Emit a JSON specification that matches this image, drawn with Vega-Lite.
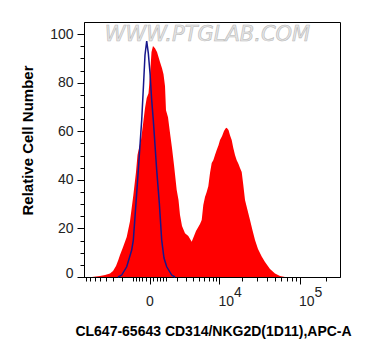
{
  "$schema": "https://vega.github.io/schema/vega-lite/v6.json",
  "width": 256,
  "height": 255,
  "autosize": {"type": "none"},
  "padding": {"left": 84, "top": 22, "right": 32, "bottom": 81},
  "background": "white",
  "config": {
    "view": {"stroke": "black", "strokeWidth": 1},
    "axis": {"labelFont": "Liberation Sans", "titleFont": "Liberation Sans", "domainColor": "black", "tickColor": "black", "labelColor": "#222222", "grid": false, "labelFontSize": 14}
  },
  "datasets": {
    "sample": [
      {"fl": -6645, "count": 0}, {"fl": -5014, "count": 0.41}, {"fl": -4158, "count": 0.82}, {"fl": -3409, "count": 1.44},
      {"fl": -3007, "count": 2.47}, {"fl": -2636, "count": 4.53}, {"fl": -2369, "count": 7.0}, {"fl": -2184, "count": 9.05},
      {"fl": -1876, "count": 12.3}, {"fl": -1527, "count": 16.5}, {"fl": -1245, "count": 23.0}, {"fl": -985, "count": 33.7},
      {"fl": -791, "count": 43.2}, {"fl": -688, "count": 50.2}, {"fl": -589, "count": 53.1}, {"fl": -464, "count": 56.4},
      {"fl": -328, "count": 63.8}, {"fl": -233, "count": 69.5}, {"fl": -141, "count": 73.7}, {"fl": -49, "count": 75.7},
      {"fl": 24, "count": 83.1}, {"fl": 100, "count": 92.6}, {"fl": 178, "count": 95.1}, {"fl": 288, "count": 94.2},
      {"fl": 404, "count": 92.6}, {"fl": 589, "count": 88.5}, {"fl": 722, "count": 86.0}, {"fl": 826, "count": 83.5},
      {"fl": 934, "count": 78.6}, {"fl": 1008, "count": 68.7}, {"fl": 1164, "count": 65.8}, {"fl": 1328, "count": 59.3},
      {"fl": 1500, "count": 53.1}, {"fl": 1683, "count": 46.1}, {"fl": 1945, "count": 35.8}, {"fl": 2131, "count": 31.7},
      {"fl": 2292, "count": 25.5}, {"fl": 2518, "count": 21.0}, {"fl": 2880, "count": 18.0}, {"fl": 3314, "count": 16.9},
      {"fl": 3802, "count": 14.5}, {"fl": 4159, "count": 16.9}, {"fl": 4487, "count": 18.9}, {"fl": 4887, "count": 20.6},
      {"fl": 5200, "count": 21.8}, {"fl": 5527, "count": 23.5}, {"fl": 5847, "count": 29.6}, {"fl": 6203, "count": 32.9},
      {"fl": 6576, "count": 35.0}, {"fl": 6943, "count": 37.4}, {"fl": 7352, "count": 42.8}, {"fl": 7778, "count": 46.9},
      {"fl": 8197, "count": 48.1}, {"fl": 8663, "count": 50.2}, {"fl": 9150, "count": 52.3}, {"fl": 9692, "count": 54.3},
      {"fl": 10163, "count": 56.4}, {"fl": 10821, "count": 58.0}, {"fl": 11515, "count": 60.1}, {"fl": 12061, "count": 61.1},
      {"fl": 12513, "count": 61.5}, {"fl": 13219, "count": 60.5}, {"fl": 13835, "count": 58.4}, {"fl": 14562, "count": 56.4},
      {"fl": 15279, "count": 53.1}, {"fl": 16075, "count": 50.2}, {"fl": 16907, "count": 48.1}, {"fl": 17831, "count": 46.5},
      {"fl": 18636, "count": 44.9}, {"fl": 19589, "count": 43.2}, {"fl": 20525, "count": 37.9}, {"fl": 21565, "count": 31.7},
      {"fl": 23180, "count": 27.6}, {"fl": 24910, "count": 23.5}, {"fl": 26756, "count": 19.3}, {"fl": 28734, "count": 15.2},
      {"fl": 31288, "count": 11.5}, {"fl": 34724, "count": 8.4}, {"fl": 38105, "count": 6.2}, {"fl": 43814, "count": 3.3},
      {"fl": 50340, "count": 1.4}, {"fl": 57794, "count": 0.4}, {"fl": 66319, "count": 0}
    ],
    "isotype": [
      {"fl": -2404, "count": 0}, {"fl": -2006, "count": 0.8}, {"fl": -1527, "count": 4.2}, {"fl": -1109, "count": 11.1},
      {"fl": -985, "count": 15.2}, {"fl": -791, "count": 30.5}, {"fl": -635, "count": 44.0}, {"fl": -526, "count": 54.3},
      {"fl": -422, "count": 64.6}, {"fl": -317, "count": 79.0}, {"fl": -233, "count": 91.4}, {"fl": -141, "count": 97.1},
      {"fl": -59, "count": 92.2}, {"fl": 24, "count": 84.0}, {"fl": 110, "count": 72.8}, {"fl": 195, "count": 64.6},
      {"fl": 288, "count": 54.3}, {"fl": 386, "count": 44.0}, {"fl": 545, "count": 30.5}, {"fl": 701, "count": 15.2},
      {"fl": 861, "count": 7.8}, {"fl": 1062, "count": 4.2}, {"fl": 1474, "count": 0.8}, {"fl": 1778, "count": 0}
    ],
    "watermark": [{"fl": 6757, "count": 99.6, "label": "WWW.PTGLAB.COM"}]
  },
  "resolve": {"axis": {"x": "independent", "y": "independent"}},
  "layer": [
    {
      "data": {"name": "watermark"},
      "mark": {"type": "text", "font": "DejaVu Sans", "fontSize": 21, "fontStyle": "italic", "fill": "#e6e6e6", "stroke": "#b8b8b8", "strokeWidth": 0.6, "align": "center", "baseline": "middle"},
      "encoding": {
        "x": {"field": "fl", "type": "quantitative", "scale": {"type": "symlog", "constant": 1818, "domain": [-8665, 294900], "nice": false},
          "axis": {"orient": "bottom", "values": [10000, 100000], "labelExpr": "datum.value == 10000 ? '4' : '5'", "ticks": false, "tickSize": 0, "domain": false, "labelAlign": "left", "labelOffset": 14, "labelPadding": 8, "title": null}},
        "y": {"field": "count", "type": "quantitative", "scale": {"domain": [0, 105], "nice": false}, "axis": null},
        "text": {"field": "label"}
      }
    },
    {
      "data": {"name": "sample"},
      "mark": {"type": "area", "color": "#ff0000", "interpolate": "linear"},
      "encoding": {
        "x": {"field": "fl", "type": "quantitative", "scale": {"type": "symlog", "constant": 1818, "domain": [-8665, 294900], "nice": false},
          "axis": {"orient": "bottom", "values": [0, 10000, 100000], "labelExpr": "datum.value == 0 ? '0' : '10'", "tickSize": 7, "labelPadding": 10,
            "labelAlign": {"condition": {"test": "datum.value == 0", "value": "center"}, "value": "left"},
            "labelOffset": {"condition": {"test": "datum.value == 0", "value": 0}, "value": -1.5},
            "title": "CL647-65643 CD314/NKG2D(1D11),APC-A", "titleFontSize": 14, "titleFontWeight": "bold", "titleColor": "black", "titleX": 129, "titleY": 54, "titleBaseline": "middle", "titleAlign": "center"}},
        "y": {"field": "count", "type": "quantitative", "scale": {"domain": [0, 105], "nice": false},
          "axis": {"orient": "left", "values": [0, 20, 40, 60, 80, 100], "tickSize": 7, "labelPadding": 4,
            "labelOffset": {"condition": {"test": "datum.value == 0", "value": -4}, "value": 0},
            "title": "Relative Cell Number", "titleFontSize": 15, "titleFontWeight": "bold", "titleColor": "black", "titleX": -57, "titleY": 118, "titleAngle": 270, "titleBaseline": "middle", "titleAlign": "center"}}
      }
    },
    {
      "data": {"name": "isotype"},
      "mark": {"type": "line", "color": "#16168c", "strokeWidth": 1.5, "interpolate": "linear"},
      "encoding": {
        "x": {"field": "fl", "type": "quantitative", "scale": {"type": "symlog", "constant": 1818, "domain": [-8665, 294900], "nice": false},
          "axis": {"orient": "bottom", "values": [-8000, -7000, -6000, -5000, -4000, -3000, -2000, -1000, -800, -600, -400, -200, 200, 400, 600, 800, 1000, 2000, 3000, 4000, 5000, 6000, 7000, 8000, 9000, 20000, 30000, 40000, 50000, 60000, 70000, 80000, 90000, 200000], "tickSize": 4, "labels": false, "domain": false, "title": null}},
        "y": {"field": "count", "type": "quantitative", "scale": {"domain": [0, 105], "nice": false},
          "axis": {"orient": "left", "values": [5, 10, 15, 25, 30, 35, 45, 50, 55, 65, 70, 75, 85, 90, 95], "tickSize": 4, "labels": false, "domain": false, "title": null}}
      }
    }
  ]
}
